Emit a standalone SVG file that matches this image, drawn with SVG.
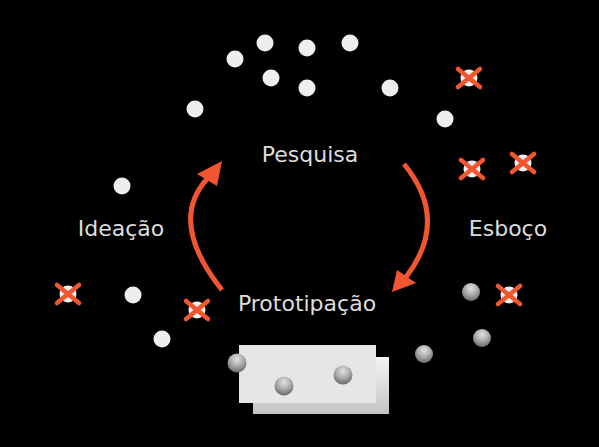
<svg xmlns="http://www.w3.org/2000/svg" width="599" height="447" viewBox="0 0 599 447">
  <defs>
    <radialGradient id="ball" cx="0.5" cy="0.3" r="0.7">
      <stop offset="0" stop-color="#e2e2e2"/>
      <stop offset="0.5" stop-color="#adadad"/>
      <stop offset="1" stop-color="#6a6a6a"/>
    </radialGradient>
    <linearGradient id="back" x1="0" y1="0" x2="0" y2="1">
      <stop offset="0" stop-color="#f4f4f4"/>
      <stop offset="1" stop-color="#c4c4c4"/>
    </linearGradient>
    <g id="x">
      <line x1="-11" y1="-9" x2="11" y2="9"/>
      <line x1="11" y1="-9" x2="-11" y2="9"/>
    </g>
  </defs>
  <style>
    .dot { fill: #eeeeee; }
    .ball { fill: url(#ball); }
    .cross { stroke: #f25630; stroke-width: 4.5; stroke-linecap: round; }
    .arc { fill: none; stroke: #f25630; stroke-width: 5; }
    .head { fill: #f25630; }
    .label { font-family: "DejaVu Sans", Verdana, sans-serif; font-size: 22px; fill: #dddddd; }
  </style>
  <rect width="599" height="447" fill="#000000"/>

  <g id="prototype-cards">
    <rect x="253" y="357" width="136" height="57" fill="url(#back)"/>
    <rect x="239" y="345" width="137" height="58" fill="#e6e6e6"/>
  </g>

  <g id="dots">
    <circle class="dot" cx="235" cy="59" r="8.5"/>
    <circle class="dot" cx="265" cy="43" r="8.5"/>
    <circle class="dot" cx="307" cy="48" r="8.5"/>
    <circle class="dot" cx="350" cy="43" r="8.5"/>
    <circle class="dot" cx="271" cy="78" r="8.5"/>
    <circle class="dot" cx="307" cy="88" r="8.5"/>
    <circle class="dot" cx="390" cy="88" r="8.5"/>
    <circle class="dot" cx="195" cy="109" r="8.5"/>
    <circle class="dot" cx="445" cy="119" r="8.5"/>
    <circle class="dot" cx="122" cy="186" r="8.5"/>
    <circle class="dot" cx="133" cy="295" r="8.5"/>
    <circle class="dot" cx="162" cy="339" r="8.5"/>
  </g>

  <g id="crossed-dots">
    <circle class="dot" cx="469" cy="78" r="8.5"/>
    <circle class="dot" cx="472" cy="169" r="8.5"/>
    <circle class="dot" cx="523" cy="163" r="8.5"/>
    <circle class="dot" cx="68" cy="294" r="8.5"/>
    <circle class="dot" cx="197" cy="310" r="8.5"/>
    <circle class="dot" cx="509" cy="295" r="8.5"/>
    <g class="cross">
      <use href="#x" x="469" y="78"/>
      <use href="#x" x="472" y="169"/>
      <use href="#x" x="523" y="163"/>
      <use href="#x" x="68" y="294"/>
      <use href="#x" x="197" y="310"/>
      <use href="#x" x="509" y="295"/>
    </g>
  </g>

  <g id="balls">
    <circle class="ball" cx="471" cy="292" r="9"/>
    <circle class="ball" cx="482" cy="338" r="9"/>
    <circle class="ball" cx="424" cy="354" r="9"/>
    <circle class="ball" cx="237" cy="363" r="9.5"/>
    <circle class="ball" cx="284" cy="386" r="9.5"/>
    <circle class="ball" cx="343" cy="375" r="9.5"/>
  </g>

  <g id="connectors">
    <path class="arc" d="M 222 290 Q 168 222 207 179"/>
    <polygon class="head" points="222,161 197,174 217,186"/>
    <path class="arc" d="M 404 164 Q 450 220 406 277"/>
    <polygon class="head" points="392,292 397,270 416,283"/>
  </g>

  <g id="node-pesquisa"><text class="label" x="310" y="162" text-anchor="middle">Pesquisa</text></g>
  <g id="node-ideacao"><text class="label" x="121" y="236" text-anchor="middle">Ideação</text></g>
  <g id="node-esboco"><text class="label" x="508" y="236" text-anchor="middle">Esboço</text></g>
  <g id="node-prototipacao"><text class="label" x="307" y="311" text-anchor="middle">Prototipação</text></g>
</svg>
